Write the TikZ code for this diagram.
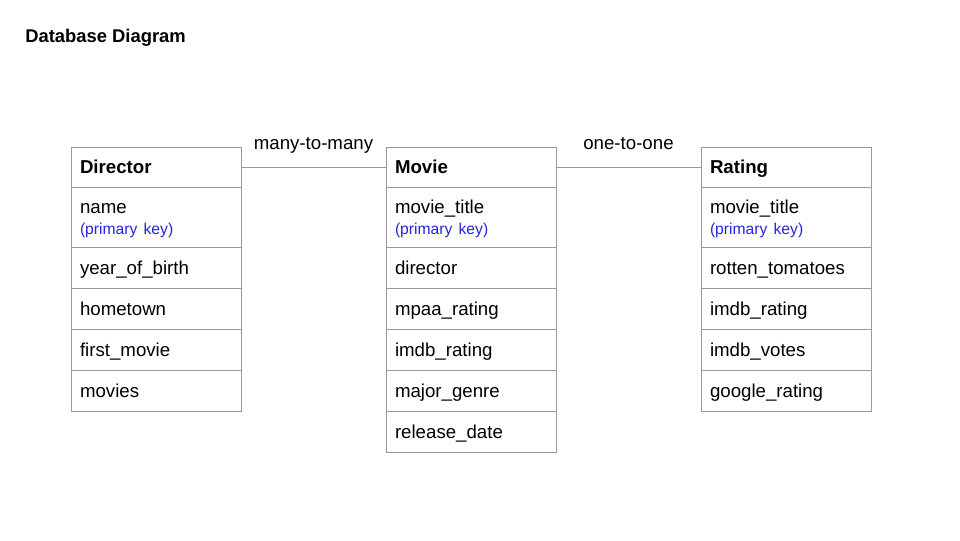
\documentclass[tikz,border=0pt]{standalone}
\usepackage{fontspec}
\setmainfont{Liberation Sans}
\definecolor{rim}{HTML}{9A9A9A}
\definecolor{key}{HTML}{2424E0}
\usetikzlibrary{positioning}

\def\zeile{41}
\def\pk{\\[-1.25pt]\mbox{\color{key}\fontsize{11.75}{13}\selectfont(primary key)}}
\def\stuetze{\rule{0pt}{13.5pt}}

\begin{document}
\begin{tikzpicture}[x=0.75pt,y=-0.75pt,
	every node/.style={font=\fontsize{14}{17}\selectfont},
	feld/.style={draw=rim,line width=0.75pt,anchor=north west,outer sep=0pt,
		text width=114pt,inner xsep=6.75pt,align=left,minimum height=30.75pt,
		text height=12.5pt,text depth=2.75pt},
	kopf/.style={feld,minimum height=30pt,font=\fontsize{14}{17}\selectfont\bfseries},
	schluessel/.style={feld,minimum height=45pt,text height=,text depth=},
	etikett/.style={text height=10pt,text depth=3pt},
	verb/.style={draw=rim,line width=0.75pt}]
\useasboundingbox (0,0) rectangle (960,540);
\node[anchor=west,inner sep=0pt,font=\fontsize{13.8}{17}\selectfont\bfseries] (titel) at (25,38) {Database Diagram};

% Director
\node[kopf] (dir) at (71,147) {Director};
\node[schluessel] (dir-0) at (71,187) {\stuetze name\pk};
\foreach \f [count=\i] in {year\_of\_birth,hometown,first\_movie,movies}{
	\node[feld] (dir-\i) at (71,{247+\zeile*(\i-1)}) {\f};
}

% Movie
\node[kopf] (mov) at (386,147) {Movie};
\node[schluessel] (mov-0) at (386,187) {\stuetze movie\_title\pk};
\foreach \f [count=\i] in {director,mpaa\_rating,imdb\_rating,major\_genre,release\_date}{
	\node[feld] (mov-\i) at (386,{247+\zeile*(\i-1)}) {\f};
}

% Rating
\node[kopf] (rat) at (701,147) {Rating};
\node[schluessel] (rat-0) at (701,187) {\stuetze movie\_title\pk};
\foreach \f [count=\i] in {rotten\_tomatoes,imdb\_rating,imdb\_votes,google\_rating}{
	\node[feld] (rat-\i) at (701,{247+\zeile*(\i-1)}) {\f};
}

\draw[verb] (dir.east) -- node[etikett,above=6.2pt] {many-to-many} (mov.west);
\draw[verb] (mov.east) -- node[etikett,above=6.2pt] {one-to-one} (rat.west);
\end{tikzpicture}
\end{document}
